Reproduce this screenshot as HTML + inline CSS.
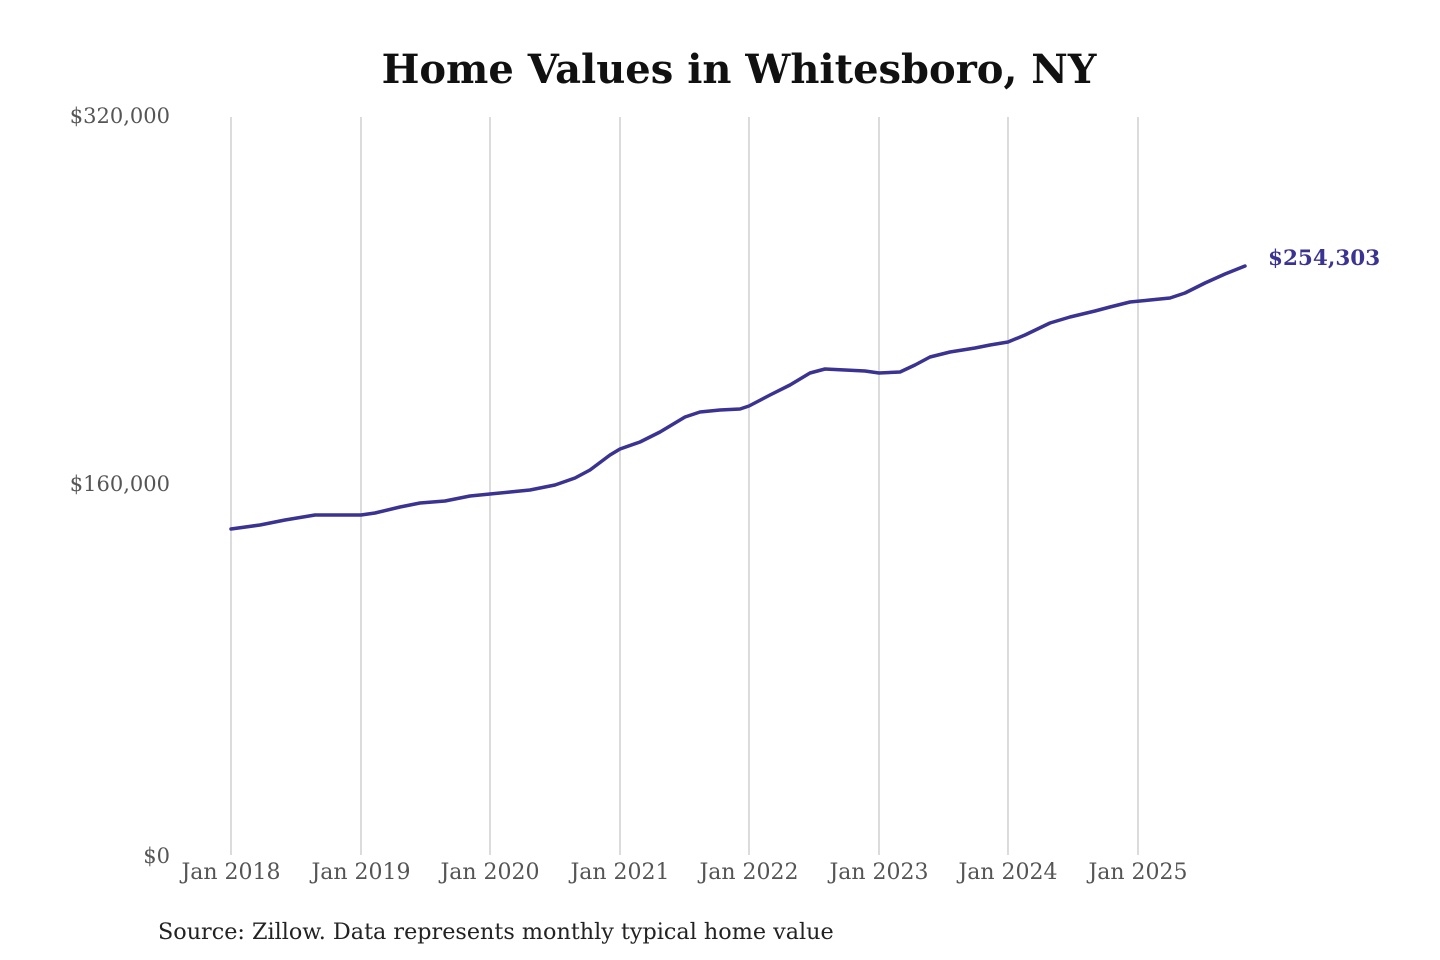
<!DOCTYPE html>
<html><head><meta charset="utf-8"><style>
html,body{margin:0;padding:0;background:#fff;}
svg{display:block;font-family:"DejaVu Serif","Liberation Serif",serif;}
</style></head><body>
<svg width="1440" height="960" viewBox="0 0 1440 960" xmlns="http://www.w3.org/2000/svg">
<rect width="1440" height="960" fill="#fff"/>
<text x="739" y="83" text-anchor="middle" font-size="40" font-weight="bold" fill="#111">Home Values in Whitesboro, NY</text>
<g stroke="#c8c8c8" stroke-width="1.3">
<line x1="231" y1="117" x2="231" y2="855"/>
<line x1="361" y1="117" x2="361" y2="855"/>
<line x1="490" y1="117" x2="490" y2="855"/>
<line x1="620" y1="117" x2="620" y2="855"/>
<line x1="749" y1="117" x2="749" y2="855"/>
<line x1="879" y1="117" x2="879" y2="855"/>
<line x1="1008" y1="117" x2="1008" y2="855"/>
<line x1="1138" y1="117" x2="1138" y2="855"/>
</g>
<g font-size="21" fill="#555" text-anchor="end">
<text x="170" y="123">$320,000</text>
<text x="170" y="491">$160,000</text>
<text x="170" y="863">$0</text>
</g>
<g font-size="22" fill="#555" text-anchor="middle">
<text x="231" y="879">Jan 2018</text>
<text x="361" y="879">Jan 2019</text>
<text x="490" y="879">Jan 2020</text>
<text x="620" y="879">Jan 2021</text>
<text x="749" y="879">Jan 2022</text>
<text x="879" y="879">Jan 2023</text>
<text x="1008" y="879">Jan 2024</text>
<text x="1138" y="879">Jan 2025</text>
</g>
<polyline fill="none" stroke="#3a3391" stroke-width="3.5" stroke-linejoin="round" stroke-linecap="round"
points="231,529 260,525 285,520 315,515 340,515 361,515 375,513 400,507 420,503 445,501 470,496 490,494 510,492 530,490 555,485 575,478 590,470 610,455 620,449 640,442 660,432 685,417 700,412 720,410 740,409 749,406 770,395 790,385 810,373 825,369 845,370 865,371 879,373 900,372 915,365 930,357 950,352 975,348 990,345 1008,342 1025,335 1050,323 1070,317 1095,311 1110,307 1130,302 1150,300 1170,298 1185,293 1205,283 1225,274 1245,266"/>
<text x="1268" y="265" font-size="21.5" font-weight="bold" fill="#3a3391">$254,303</text>
<text x="158" y="939" font-size="22.3" fill="#222">Source: Zillow. Data represents monthly typical home value</text>
</svg>
</body></html>
